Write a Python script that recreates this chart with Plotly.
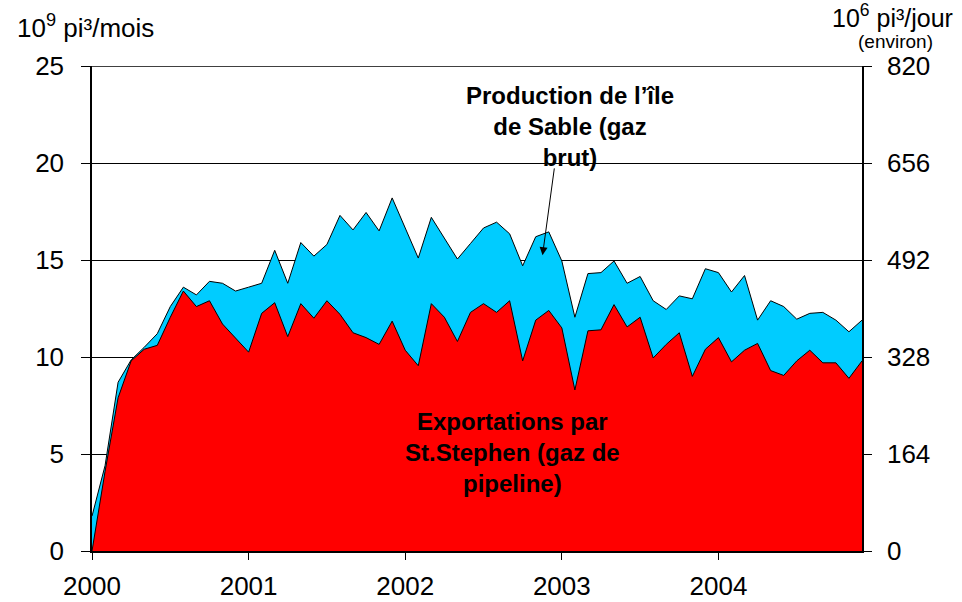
import plotly.graph_objects as go

# Monthly volumes, January 2000 to December 2004 (10^9 cubic feet per month)
years = ["2000", "2001", "2002", "2003", "2004"]
months = [f"{y}-{m:02d}" for y in years for m in range(1, 13)]

sable_production = [
    1.8, 4.4, 8.7, 9.85, 10.5, 11.2, 12.6, 13.6, 13.2, 13.9, 13.8, 13.4,
    13.6, 13.8, 15.5, 13.8, 15.9, 15.2, 15.8, 17.3, 16.55, 17.45, 16.5, 18.2,
    16.65, 15.1, 17.2, 16.1, 15.05, 15.85, 16.65, 16.95, 16.35, 14.7, 16.2, 16.45,
    14.95, 12.05, 14.3, 14.35, 14.95, 13.8, 14.15, 12.9, 12.45, 13.15, 13.0, 14.55,
    14.35, 13.35, 14.2, 11.9, 12.9, 12.6, 11.95, 12.25, 12.3, 11.9, 11.3, 11.9,
]
st_stephen_exports = [
    0.0, 4.1, 7.9, 9.8, 10.4, 10.6, 12.05, 13.4, 12.6, 12.9, 11.7, 11.0,
    10.25, 12.25, 12.8, 11.05, 12.75, 12.0, 12.9, 12.2, 11.25, 11.0, 10.65, 11.85,
    10.35, 9.55, 12.75, 12.05, 10.8, 12.3, 12.75, 12.3, 12.9, 9.8, 11.9, 12.4,
    11.5, 8.3, 11.35, 11.4, 12.7, 11.55, 12.05, 9.95, 10.65, 11.25, 9.0, 10.4,
    11.0, 9.75, 10.35, 10.7, 9.3, 9.05, 9.8, 10.35, 9.7, 9.7, 8.9, 9.8,
]

left_ticks = [0, 5, 10, 15, 20, 25]
right_ticks = [0, 164, 328, 492, 656, 820]

x = list(range(len(months)))
year_pos = [months.index(f"{y}-01") for y in years]

FONT = "Liberation Sans, Arial, sans-serif"
BLUE = "rgb(0,204,255)"
RED = "rgb(255,0,0)"

fig = go.Figure()
fig.add_trace(go.Scatter(
    x=x, y=sable_production, mode="lines", fill="tozeroy",
    fillcolor=BLUE, line=dict(color="black", width=1),
    name="Production de l’île de Sable", hoverinfo="skip",
))
fig.add_trace(go.Scatter(
    x=x, y=st_stephen_exports, mode="lines", fill="tozeroy",
    fillcolor=RED, line=dict(color="black", width=1),
    name="Exportations par St.Stephen", hoverinfo="skip",
))
# invisible trace to carry the right-hand axis
fig.add_trace(go.Scatter(x=[x[0]], y=[0], yaxis="y2", mode="markers",
                         marker=dict(opacity=0), showlegend=False, hoverinfo="skip"))

fig.update_layout(
    width=962, height=602,
    margin=dict(l=92, r=100, t=66, b=51),
    paper_bgcolor="white", plot_bgcolor="white",
    showlegend=False,
    font=dict(family=FONT, size=26, color="black"),
    xaxis=dict(
        range=[0, len(months) - 1], tickvals=year_pos, ticktext=years,
        ticks="outside", ticklen=7, tickwidth=1, tickcolor="black",
        showline=True, linecolor="black", linewidth=2,
        showgrid=False, zeroline=False, ticklabelstandoff=4,
        automargin=False,
    ),
    yaxis=dict(
        range=[0, 25], tickvals=left_ticks,
        ticks="outside", ticklen=9, tickwidth=1, tickcolor="black",
        showline=True, linecolor="black", linewidth=1.5,
        showgrid=True, gridcolor="black", gridwidth=1,
        zeroline=False, ticklabelstandoff=12, automargin=False,
    ),
    yaxis2=dict(
        range=[0, 820], tickvals=right_ticks, overlaying="y", side="right",
        ticks="outside", ticklen=8, tickwidth=1, tickcolor="black",
        showline=True, linecolor="black", linewidth=1.5,
        showgrid=False, zeroline=False, ticklabelstandoff=10, automargin=False,
    ),
)

# gridline along the top value of the left scale
fig.add_shape(type="line", xref="paper", yref="y", x0=0, x1=1, y0=25, y1=25,
              line=dict(color="black", width=1.5))

annotations = [
    dict(text="Production de l’île<br>de Sable (gaz<br>brut)", x=36.6, y=21.9,
         xref="x", yref="y", showarrow=False, align="center",
         font=dict(family=FONT, size=24, color="black", weight="bold")),
    dict(text="Exportations par<br>St.Stephen (gaz de<br>pipeline)", x=32.2, y=5.1,
         xref="x", yref="y", showarrow=False, align="center",
         font=dict(family=FONT, size=24, color="black", weight="bold")),
    dict(text="", x=34.52, y=15.25, ax=35.44, ay=19.8, xref="x", yref="y",
         axref="x", ayref="y", showarrow=True, arrowhead=2, arrowsize=1.6,
         arrowwidth=1, arrowcolor="black", standoff=0),
    dict(text="10<sup>9</sup> pi³/mois", x=-0.1, y=1.082, xref="paper", yref="paper",
         xanchor="left", yanchor="middle", showarrow=False,
         font=dict(family=FONT, size=26, color="black")),
    dict(text="10<sup>6</sup> pi³/jour", x=0.958, y=1.104, xref="paper", yref="paper",
         xanchor="left", yanchor="middle", showarrow=False,
         font=dict(family=FONT, size=25, color="black")),
    dict(text="(environ)", x=1.044, y=1.051, xref="paper", yref="paper",
         xanchor="center", yanchor="middle", showarrow=False,
         font=dict(family=FONT, size=19, color="black")),
]
fig.update_layout(annotations=annotations)

fig.write_html("out.html")
